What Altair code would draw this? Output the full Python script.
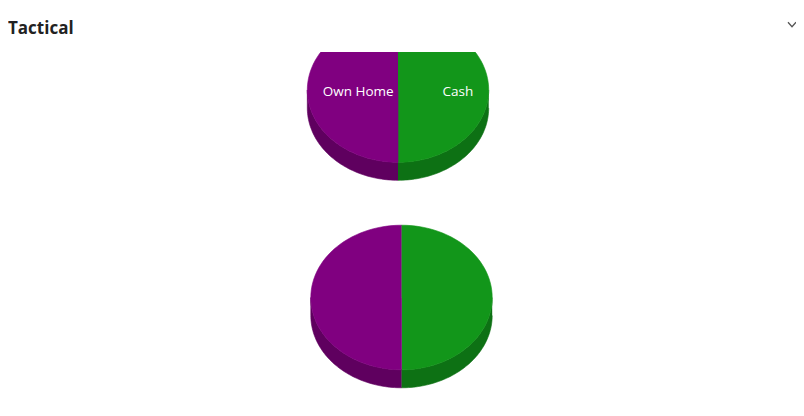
import pandas as pd
import altair as alt

# slice data (same split in both pies)
categories = ["Cash", "Own Home"]
values = [50, 50]
pies = ["upper", "lower"]

top_colors = ["#12961a", "#800080"]
side_colors = ["#0d7114", "#5f005f"]

df = pd.DataFrame([
    {"pie": p, "category": c, "value": v, "order": i}
    for p in pies
    for i, (c, v) in enumerate(zip(categories, values))
])

# layout of the pies, in plot pixels (y grows downward)
RX, RY, DEPTH = 90.7, 72.3, 18
N = 60
W, H = 788, 356

xs = alt.Scale(domain=[0, W], range=[0, W])
ys = alt.Scale(domain=[0, H], range=[0, H])

base = alt.Chart(df).transform_joinaggregate(
    total="sum(value)", groupby=["pie"]
).transform_window(
    cum="sum(value)", groupby=["pie"], sort=[alt.SortField("order")], frame=[None, 0]
).transform_calculate(
    a0="2*PI*(datum.cum - datum.value)/datum.total",
    a1="2*PI*datum.cum/datum.total",
    cx="datum.pie == 'upper' ? 390 : 393.5",
    cy="datum.pie == 'upper' ? 38 : 245.5",
)

top_fill = alt.Color("category:N", scale=alt.Scale(domain=categories, range=top_colors), legend=None)
side_fill = alt.Color("category:N", scale=alt.Scale(domain=categories, range=side_colors), legend=None)

# visible rim of each slice (front half of the ellipse)
side = base.transform_calculate(
    s0="max(datum.a0, PI/2)",
    s1="min(datum.a1, 3*PI/2)",
).transform_filter(
    "datum.s1 > datum.s0"
).transform_calculate(
    i=f"sequence(0, {2 * N + 2})"
).transform_flatten(["i"]).transform_calculate(
    ang=f"datum.i <= {N} ? datum.s0 + (datum.s1 - datum.s0)*datum.i/{N} "
        f": datum.s1 - (datum.s1 - datum.s0)*(datum.i - {N + 1})/{N}",
    px=f"datum.cx + {RX}*sin(datum.ang)",
    py=f"datum.cy - {RY}*cos(datum.ang) + (datum.i > {N} ? {DEPTH} : 0)",
).mark_line(filled=True, strokeWidth=0.6, clip=True, interpolate="linear").encode(
    x=alt.X("px:Q", scale=xs, axis=None),
    y=alt.Y("py:Q", scale=ys, axis=None),
    order="i:Q",
    detail="pie:N",
    fill=side_fill,
    stroke=side_fill,
)

# top face of each slice
face = base.transform_calculate(
    i=f"sequence(0, {N + 2})"
).transform_flatten(["i"]).transform_calculate(
    ang=f"datum.a0 + (datum.a1 - datum.a0)*(datum.i - 1)/{N}",
    px=f"datum.i == 0 ? datum.cx : datum.cx + {RX}*sin(datum.ang)",
    py=f"datum.i == 0 ? datum.cy : datum.cy - {RY}*cos(datum.ang)",
).mark_line(filled=True, strokeWidth=0.6, clip=True, interpolate="linear").encode(
    x=alt.X("px:Q", scale=xs, axis=None),
    y=alt.Y("py:Q", scale=ys, axis=None),
    order="i:Q",
    detail="pie:N",
    fill=top_fill,
    stroke=top_fill,
)

# slice labels on the upper pie, pulled in toward the centre
labels = base.transform_filter(
    "datum.pie == 'upper'"
).transform_calculate(
    mid="(datum.a0 + datum.a1)/2",
    lx=f"datum.cx + {RX}*0.83*sin((datum.a0 + datum.a1)/2)",
    ly=f"datum.cy - {RY}*0.83*cos((datum.a0 + datum.a1)/2)",
)
label_enc = dict(
    x=alt.X("lx:Q", scale=xs, axis=None),
    y=alt.Y("ly:Q", scale=ys, axis=None),
    text="category:N",
)
labels_left = labels.transform_filter("sin(datum.mid) < 0").mark_text(
    align="left", baseline="middle", color="white", font="Open Sans", fontSize=13.5, dy=2
).encode(**label_enc)
labels_right = labels.transform_filter("sin(datum.mid) >= 0").mark_text(
    align="right", baseline="middle", color="white", font="Open Sans", fontSize=13.5, dy=2
).encode(**label_enc)

# header: title and collapse chevron
header = alt.Chart(pd.DataFrame({"t": ["Tactical"]})).mark_text(
    align="left", baseline="alphabetic", font="Open Sans", fontSize=17, fontWeight="bold",
    color="#222222", clip=False
).encode(x=alt.value(0), y=alt.value(-18), text="t:N")

chevron = alt.Chart(pd.DataFrame({"t": ["v"]})).mark_point(
    shape="M-1,-0.55L0,0.55L1,-0.55", filled=False, size=64, color="#555555",
    strokeWidth=1.3, opacity=1, clip=False
).encode(x=alt.value(784), y=alt.value(-27.5))

chart = alt.layer(side, face, labels_left, labels_right, header, chevron).resolve_scale(
    fill="independent", stroke="independent"
).properties(
    width=W, height=H,
    autosize=alt.AutoSizeParams(type="none"),
    padding={"left": 0, "top": 44, "right": 0, "bottom": 0},
).configure_view(stroke=None)

chart.save("out.html", embed_options={"renderer": "svg", "actions": False})
